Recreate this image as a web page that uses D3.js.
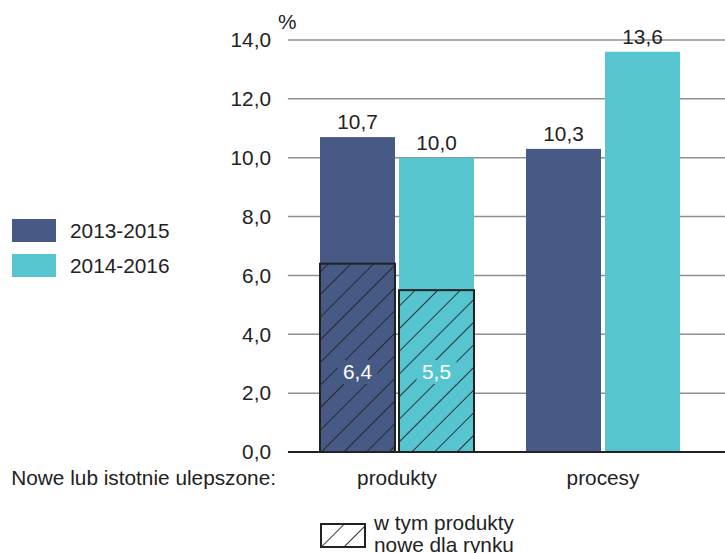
<!DOCTYPE html>
<html>
<head>
<meta charset="utf-8">
<script src="https://cdn.jsdelivr.net/npm/d3@7"></script>
<style>
  body { margin: 0; background: #fff; }
  text { font-family: "Liberation Sans", Arial, sans-serif; fill: #222; }
</style>
</head>
<body>
<script>
// data
const categories = ["produkty", "procesy"]
const periods = ["2013-2015", "2014-2016"]
const totals = { "produkty": [10.7, 10.0], "procesy": [10.3, 13.6] }
const newToMarket = { "produkty": [6.4, 5.5] }
const yTicks = [0, 2, 4, 6, 8, 10, 12, 14]

const width = 725, height = 553
const colors = ["#475a85", "#56c5d0"]
const fs = "20.8px"
const fmt = v => v.toFixed(1).replace(".", ",")

const svg = d3.select("body").append("svg")
  .attr("width", width).attr("height", height)

const defs = svg.append("defs")
const pat = defs.append("pattern")
  .attr("id", "hatch")
  .attr("patternUnits", "userSpaceOnUse")
  .attr("width", 16).attr("height", 16)
  .attr("patternTransform", "rotate(45)")
pat.append("line")
  .attr("x1", 0).attr("y1", 0).attr("x2", 0).attr("y2", 16)
  .attr("stroke", "#222").attr("stroke-width", 1.8)

const y = d3.scaleLinear().domain([0, 14]).range([452, 40])
const x0 = d3.scaleBand().domain(categories).range([294, 706]).paddingInner(52 / 206).paddingOuter(26 / 206)
const x1 = d3.scaleBand().domain(periods).range([0, x0.bandwidth()]).paddingInner(4 / 79)

// gridlines
svg.append("g").selectAll("line")
  .data(yTicks.filter(d => d > 0))
  .join("line")
  .attr("x1", 288).attr("x2", width)
  .attr("y1", d => y(d)).attr("y2", d => y(d))
  .attr("stroke", "#8f8f8f").attr("stroke-width", 1.5)

// y labels
svg.append("g").selectAll("text")
  .data(yTicks)
  .join("text")
  .attr("x", 271).attr("y", d => y(d))
  .attr("dy", "0.35em")
  .attr("text-anchor", "end")
  .style("font-size", fs)
  .text(d => fmt(d))

svg.append("text").attr("x", 278).attr("y", 29).style("font-size", fs).text("%")

// bars
const groups = svg.append("g").selectAll("g")
  .data(categories)
  .join("g")
  .attr("transform", d => `translate(${x0(d)},0)`)

groups.selectAll("rect.total")
  .data(c => totals[c].map((v, i) => ({ c, v, p: periods[i], i })))
  .join("rect")
  .attr("class", "total")
  .attr("x", d => x1(d.p))
  .attr("width", x1.bandwidth())
  .attr("y", d => y(d.v))
  .attr("height", d => y(0) - y(d.v))
  .attr("fill", d => colors[d.i])

groups.selectAll("text.total")
  .data(c => totals[c].map((v, i) => ({ c, v, p: periods[i], i })))
  .join("text")
  .attr("class", "total")
  .attr("x", d => x1(d.p) + x1.bandwidth() / 2)
  .attr("y", d => y(d.v) - 8)
  .attr("text-anchor", "middle")
  .style("font-size", fs)
  .text(d => fmt(d.v))

// hatched part
const hatched = groups.filter(c => newToMarket[c])
hatched.selectAll("rect.hatch")
  .data(c => newToMarket[c].map((v, i) => ({ c, v, p: periods[i], i })))
  .join("rect")
  .attr("class", "hatch")
  .attr("x", d => x1(d.p))
  .attr("width", x1.bandwidth())
  .attr("y", d => y(d.v))
  .attr("height", d => y(0) - y(d.v))
  .attr("fill", "url(#hatch)")
  .attr("stroke", "#222").attr("stroke-width", 2)

hatched.selectAll("rect.lblbg")
  .data(c => newToMarket[c].map((v, i) => ({ c, v, p: periods[i], i })))
  .join("rect")
  .attr("class", "lblbg")
  .attr("x", d => x1(d.p) + x1.bandwidth() / 2 - 20)
  .attr("y", y(0) - 80 - 12)
  .attr("width", 40).attr("height", 24)
  .attr("fill", d => colors[d.i])

hatched.selectAll("text.hatch")
  .data(c => newToMarket[c].map((v, i) => ({ c, v, p: periods[i], i })))
  .join("text")
  .attr("class", "hatch")
  .attr("x", d => x1(d.p) + x1.bandwidth() / 2)
  .attr("y", y(0) - 80)
  .attr("dy", "0.35em")
  .attr("text-anchor", "middle")
  .style("font-size", fs)
  .style("fill", "#fff")
  .text(d => fmt(d.v))

// baseline
svg.append("line")
  .attr("x1", 288).attr("x2", width)
  .attr("y1", y(0)).attr("y2", y(0))
  .attr("stroke", "#222").attr("stroke-width", 2)

// category labels
svg.append("g").selectAll("text")
  .data(categories)
  .join("text")
  .attr("x", d => x0(d) + x0.bandwidth() / 2)
  .attr("y", 485)
  .attr("text-anchor", "middle")
  .style("font-size", fs)
  .text(d => d)

svg.append("text").attr("x", 276).attr("y", 485)
  .attr("text-anchor", "end").style("font-size", fs)
  .text("Nowe lub istotnie ulepszone:")

// legend
const leg = svg.append("g").selectAll("g")
  .data(periods)
  .join("g")
  .attr("transform", (d, i) => `translate(12,${219 + i * 35})`)
leg.append("rect").attr("width", 44).attr("height", 23).attr("fill", (d, i) => colors[i])
leg.append("text").attr("x", 58).attr("y", 12).attr("dy", "0.35em")
  .style("font-size", fs).text(d => d)

// hatch legend
const hl = svg.append("g").attr("transform", "translate(321,524)")
hl.append("rect").attr("width", 44).attr("height", 23)
  .attr("fill", "url(#hatch)").attr("stroke", "#222").attr("stroke-width", 2)
hl.append("text").attr("x", 53).attr("y", -1).attr("dy", "0.35em")
  .style("font-size", fs).text("w tym produkty")
hl.append("text").attr("x", 53).attr("y", 21).attr("dy", "0.35em")
  .style("font-size", fs).text("nowe dla rynku")
</script>
</body>
</html>
